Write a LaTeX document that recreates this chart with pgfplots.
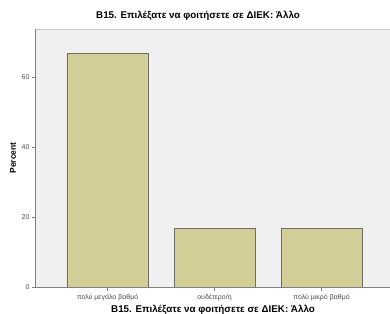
\documentclass[border=0pt]{standalone}
\usepackage{fontspec}
\setmainfont{Liberation Sans}
\usepackage{pgfplots}
\pgfplotsset{compat=1.18}
\definecolor{bgc}{HTML}{F0F0F0}
\definecolor{barc}{HTML}{D3CE98}
\definecolor{edgec}{HTML}{6E6E64}
\definecolor{axc}{HTML}{808080}
\definecolor{framec}{HTML}{C8C8C8}
\begin{document}
\begin{tikzpicture}
\begin{axis}[
  name=ax,
  at={(0,0)}, anchor=south west,
  scale only axis,
  width=354pt, height=258pt,
  xmin=-0.668, xmax=2.64,
  ymin=0, ymax=73.7,
  axis background/.style={fill=bgc},
  axis line style={draw=none},
  xtick=data,
  xticklabels={πολύ μεγάλο βαθμό, ουδέτερο/η, πολύ μικρό βαθμό},
  ytick={0,20,40,60},
  tick align=outside,
  major tick length=4pt,
  tick style={axc, line width=0.6pt},
  xtick pos=bottom, ytick pos=left,
  ticklabel style={font=\fontsize{7}{8}\selectfont, text=black!70},
  yticklabel style={xshift=1pt},
  /pgf/number format/assume math mode=true,
  xlabel={B15. Επιλέξατε να φοιτήσετε σε ΔΙΕΚ: Άλλο},
  xlabel style={font=\bfseries\fontsize{9.8}{11}\selectfont, at={(axis description cs:0.5,0)}, anchor=north, yshift=-14.5pt},
  ybar, bar width=81pt,
  clip=false,
]
\addplot[fill=barc, draw=edgec, line width=0.8pt] coordinates {(0,66.67) (1,16.67) (2,16.67)};
\draw[framec, line width=0.6pt] (rel axis cs:0,1) -- (rel axis cs:1,1);
\draw[axc, line width=1pt] (rel axis cs:0,0) -- (rel axis cs:0,1);
\draw[axc, line width=1pt] (rel axis cs:0,0) -- (rel axis cs:1,0);
\end{axis}
\node[font=\bfseries\fontsize{8.5}{9}\selectfont, rotate=90] at (-23pt,129pt) {Percent};
\node[font=\bfseries\fontsize{9.8}{11}\selectfont] at (162pt,271pt) {B15. Επιλέξατε να φοιτήσετε σε ΔΙΕΚ: Άλλο};
\pgfresetboundingbox
\path (-36pt,-26pt) rectangle (354pt,287pt);
\end{tikzpicture}
\end{document}
